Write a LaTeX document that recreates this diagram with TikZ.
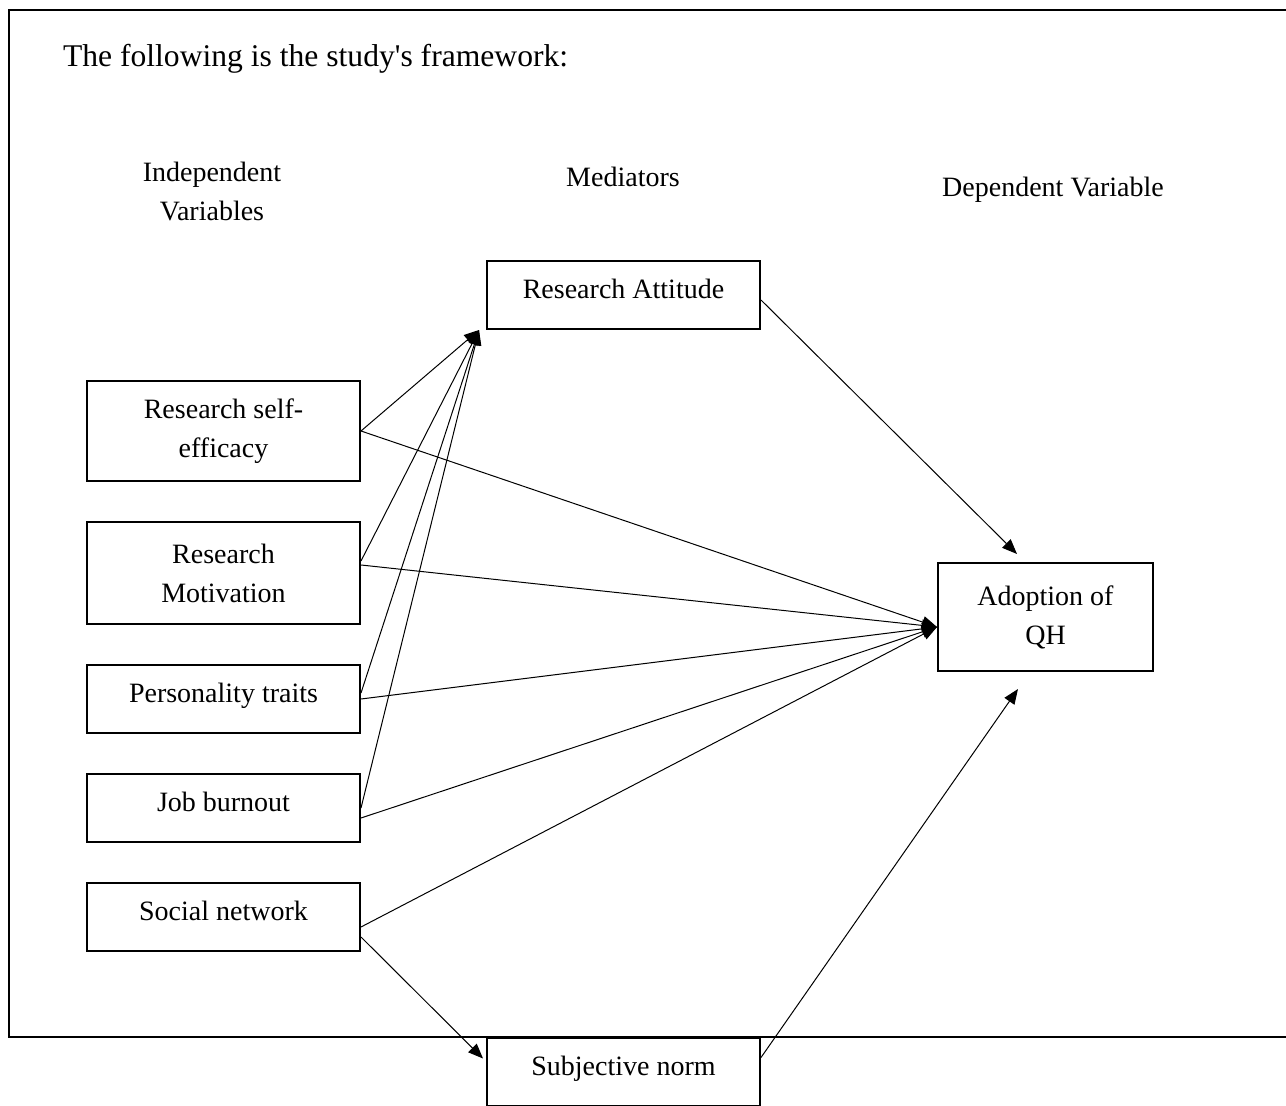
\documentclass[tikz,border=0pt]{standalone}
\usepackage{fontspec}
\setmainfont{Liberation Serif}
\usepackage{tikz}
\usetikzlibrary{arrows.meta}
\usetikzlibrary{positioning}
\tikzstyle{box} = [rectangle, minimum width=136.5pt, minimum height=34pt, inner sep=0pt, align=center, draw=black, line width=1pt, font=\fontsize{14}{19.5}\selectfont]
\tikzstyle{onebox} = [box, text height=10pt, text depth=6.5pt]
\tikzstyle{tallbox} = [box, minimum height=50pt]
\tikzstyle{head} = [align=center, font=\fontsize{14}{19.5}\selectfont]
\tikzstyle{arrow} = [line width=0.5pt, -{Triangle[length=7.5pt, width=6pt]}, black]

\begin{document}
\begin{tikzpicture}[x=0.5pt, y=-0.5pt, node distance=19.5pt]
    \useasboundingbox (0,0) rectangle (1286,1106);
    \draw [line width=1pt] (9,10) rectangle (1300,1037);
    \node (title) [anchor=west, font=\fontsize{15.8}{20}\selectfont] at (56,59) {The following is the study\textquotesingle s framework:};
    \node (indep) [head] at (212,192) {Independent\\Variables};
    \node (medi) [head] at (623,177) {Mediators};
    \node (depv) [head] at (1053,190) {Dependent Variable};
    \node (ra) [onebox] at (623.5,295) {Research Attitude};
    \node (rse) [tallbox] at (223.5,431) {Research self-\\efficacy};
    \node (rm) [tallbox, minimum height=51pt, below = of rse] {Research\\Motivation};
    \node (pt) [onebox, below = of rm] {Personality traits};
    \node (jb) [onebox, below = of pt] {Job burnout};
    \node (sn) [onebox, below = of jb] {Social network};
    \node (aq) [box, minimum width=107.5pt, minimum height=54pt] at (1045.5,617) {Adoption of\\QH};
    \node (subj) [onebox] at (623.5,1071.5) {Subjective norm};
    \draw [arrow] (rse.east) -- ([xshift=-3.5pt]ra.south west);
    \draw [arrow] ([yshift=6pt]rm.east) -- ([xshift=-3.5pt]ra.south west);
    \draw [arrow] ([yshift=3pt]pt.east) -- ([xshift=-3.5pt]ra.south west);
    \draw [arrow] (jb.east) -- ([xshift=-3.5pt]ra.south west);
    \draw [arrow] (rse.east) -- ([yshift=-5pt]aq.west);
    \draw [arrow] ([yshift=4pt]rm.east) -- ([yshift=-5pt]aq.west);
    \draw [arrow] (pt.east) -- ([yshift=-5pt]aq.west);
    \draw [arrow] ([yshift=-5pt]jb.east) -- ([yshift=-5pt]aq.west);
    \draw [arrow] ([yshift=-5pt]sn.east) -- ([yshift=-5pt]aq.west);
    \draw [arrow] ([yshift=-10pt]sn.east) -- ([xshift=-1.5pt,yshift=-11pt]subj.north west);
    \draw [arrow] ([yshift=-2.5pt]ra.east) -- ([xshift=40pt,yshift=4pt]aq.north west);
    \draw [arrow] ([yshift=7pt]subj.east) -- ([xshift=40.5pt,yshift=-8.5pt]aq.south west);
\end{tikzpicture}
\end{document}
